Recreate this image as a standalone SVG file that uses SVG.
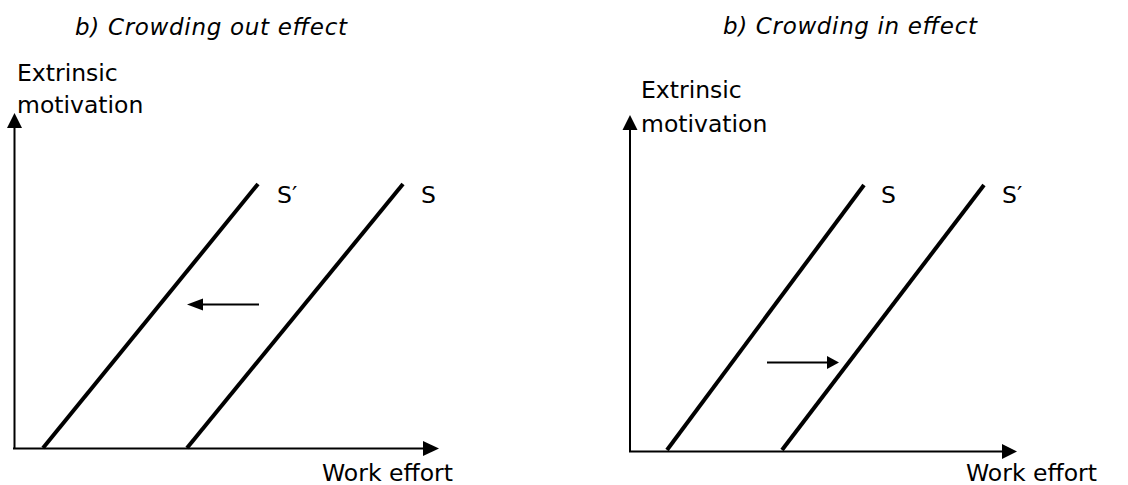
<svg xmlns="http://www.w3.org/2000/svg" width="1128" height="485" viewBox="0 0 1128 485">
<style>
text{font-family:"DejaVu Sans","Liberation Sans",sans-serif;font-size:23.5px;fill:#000}
.title{font-style:italic;font-size:23px}
.axis{stroke:#000;stroke-width:2;fill:none}
.curve{stroke:#000;stroke-width:4;fill:none}
.shift{stroke:#000;stroke-width:2;fill:none}
.head{fill:#000;stroke:none}
</style>
<rect width="1128" height="485" fill="#fff"/>
<g id="left-panel">
  <text id="title-left" class="title" x="75" y="35" textLength="272" lengthAdjust="spacing">b) Crowding out effect</text>
  <g id="left-axes">
    <line class="axis" x1="14.5" y1="449" x2="14.5" y2="126"/>
    <polygon class="head" points="14.5,113 7,128 22,128"/>
    <line class="axis" x1="13" y1="448.5" x2="425" y2="448.5"/>
    <polygon class="head" points="439,448.5 423,441 423,456"/>
  </g>
  <g id="left-ylabel"><text x="17" y="81">Extrinsic</text><text x="17" y="113">motivation</text></g>
  <g id="left-xlabel"><text x="322" y="481">Work effort</text></g>
  <g id="left-curve-Sprime"><line class="curve" x1="43" y1="448" x2="258" y2="184"/><text x="277" y="203">S′</text></g>
  <g id="left-curve-S"><line class="curve" x1="187" y1="448" x2="403" y2="184"/><text x="421" y="203">S</text></g>
  <g id="left-shift">
    <line class="shift" x1="259" y1="304.5" x2="200" y2="304.5"/>
    <polygon class="head" points="187,304.5 203,298.5 203,310.5"/>
  </g>
</g>
<g id="right-panel">
  <text id="title-right" class="title" x="723" y="34" textLength="254" lengthAdjust="spacing">b) Crowding in effect</text>
  <g id="right-axes">
    <line class="axis" x1="630" y1="452" x2="630" y2="128"/>
    <polygon class="head" points="630,115 622.5,130 637.5,130"/>
    <line class="axis" x1="629" y1="451.5" x2="1004" y2="451.5"/>
    <polygon class="head" points="1017,451.5 1002,444 1002,459"/>
  </g>
  <g id="right-ylabel"><text x="641" y="98">Extrinsic</text><text x="641" y="131.5">motivation</text></g>
  <g id="right-xlabel"><text x="966" y="481">Work effort</text></g>
  <g id="right-curve-S"><line class="curve" x1="667" y1="450" x2="864" y2="185"/><text x="881" y="203">S</text></g>
  <g id="right-curve-Sprime"><line class="curve" x1="782" y1="450" x2="984" y2="185"/><text x="1002" y="203">S′</text></g>
  <g id="right-shift">
    <line class="shift" x1="767" y1="362.5" x2="828" y2="362.5"/>
    <polygon class="head" points="839,362.5 827,356 827,369"/>
  </g>
</g>
</svg>
